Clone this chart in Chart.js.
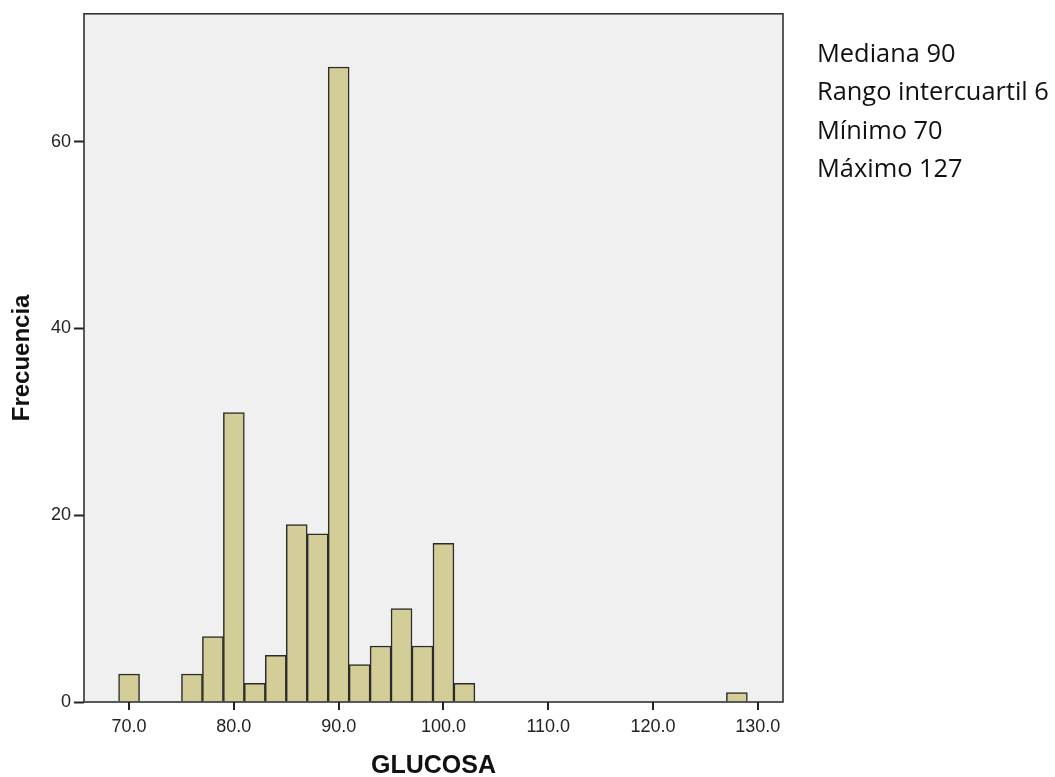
<!DOCTYPE html>
<html>
<head>
<meta charset="utf-8">
<script src="https://cdn.jsdelivr.net/npm/chart.js@4"></script>
<style>
  html, body { margin: 0; padding: 0; background: #fff; }
  #wrap { width: 1055px; height: 777px; position: relative; }
</style>
</head>
<body>
<div id="wrap"><canvas id="hist"></canvas></div>
<script>
// Histograma de GLUCOSA (bins de ancho 2)
const binCenters = [70, 76, 78, 80, 82, 84, 86, 88, 90, 92, 94, 96, 98, 100, 102, 128];
const frequencies = [3, 3, 7, 31, 2, 5, 19, 18, 68, 4, 6, 10, 6, 17, 2, 1];
const xTickValues = [70, 80, 90, 100, 110, 120, 130];
const yTickValues = [0, 20, 40, 60];
const statsLines = ['Mediana 90', 'Rango intercuartil 6', 'Mínimo 70', 'Máximo 127'];

const AXIS_FONT = '"Liberation Sans", Arial, sans-serif';

// fondo gris, marco del área de trazado y marcas del eje X
const plotFrame = {
    id: 'plotFrame',
    beforeDatasetsDraw(chart) {
        const { ctx, chartArea: a } = chart;
        ctx.save();
        ctx.fillStyle = '#f0f0f0';
        ctx.fillRect(a.left, a.top, a.right - a.left, a.bottom - a.top);
        ctx.restore();
    },
    afterDatasetsDraw(chart) {
        const { ctx, chartArea: a, scales } = chart;
        ctx.save();
        ctx.strokeStyle = '#333';
        ctx.lineWidth = 1.6;
        ctx.strokeRect(a.left, a.top, a.right - a.left, a.bottom - a.top);
        ctx.strokeStyle = '#222';
        ctx.lineWidth = 2;
        ctx.beginPath();
        xTickValues.forEach(v => {
            const px = Math.round(scales.x.getPixelForValue(v));
            ctx.moveTo(px, a.bottom);
            ctx.lineTo(px, a.bottom + 8);
        });
        ctx.stroke();
        ctx.restore();
    }
};

// texto de estadísticos a la derecha (tamaño ajustado al ancho del original)
const statsText = {
    id: 'statsText',
    afterDraw(chart) {
        const { ctx } = chart;
        ctx.save();
        ctx.font = '24px "Open Sans", sans-serif';
        const w = ctx.measureText(statsLines[1]).width;
        const size = 24 * 232 / w;
        ctx.font = size.toFixed(1) + 'px "Open Sans", sans-serif';
        ctx.fillStyle = '#111';
        ctx.textBaseline = 'alphabetic';
        statsLines.forEach((t, i) => ctx.fillText(t, 817, 62 + i * 38.4));
        ctx.restore();
    }
};

new Chart(document.getElementById('hist'), {
    type: 'bar',
    data: {
        datasets: [{
            label: 'Frecuencia',
            data: binCenters.map((x, i) => ({ x: x, y: frequencies[i] })),
            backgroundColor: 'rgb(211, 206, 151)',
            borderColor: '#2b2b2b',
            borderWidth: 1.5,
            borderSkipped: 'bottom',
            categoryPercentage: 1,
            barPercentage: 1
        }]
    },
    options: {
        responsive: true,
        maintainAspectRatio: false,
        animation: false,
        layout: { padding: { top: 13, right: 272, left: 0, bottom: 0 } },
        plugins: { legend: { display: false }, tooltip: { enabled: false } },
        scales: {
            x: {
                type: 'linear',
                offset: false,
                min: 65.7,
                max: 132.4,
                afterBuildTicks: (s) => { s.ticks = xTickValues.map(v => ({ value: v })); },
                afterFit: (s) => { s.height = 75; },
                ticks: {
                    callback: (v) => Number(v).toFixed(1),
                    color: '#222',
                    font: { family: AXIS_FONT, size: 18 },
                    padding: 6,
                    maxRotation: 0,
                    autoSkip: false
                },
                grid: { display: false },
                border: { display: false },
                title: {
                    display: true,
                    text: 'GLUCOSA',
                    color: '#111',
                    font: { family: AXIS_FONT, size: 25, weight: 'bold', lineHeight: 0.9 },
                    padding: 0
                }
            },
            y: {
                min: 0,
                max: 73.7,
                afterBuildTicks: (s) => { s.ticks = yTickValues.map(v => ({ value: v })); },
                afterFit: (s) => { s.width = 84; },
                ticks: {
                    color: '#222',
                    font: { family: AXIS_FONT, size: 18 },
                    padding: 3
                },
                grid: { display: true, drawOnChartArea: false, drawTicks: true, tickLength: 10, tickColor: '#222', tickWidth: 2 },
                border: { display: false },
                title: {
                    display: true,
                    text: 'Frecuencia',
                    color: '#111',
                    font: { family: AXIS_FONT, size: 24, weight: 'bold' },
                    padding: { top: 8, bottom: 0 }
                }
            }
        }
    },
    plugins: [plotFrame, statsText]
});
</script>
</body>
</html>
